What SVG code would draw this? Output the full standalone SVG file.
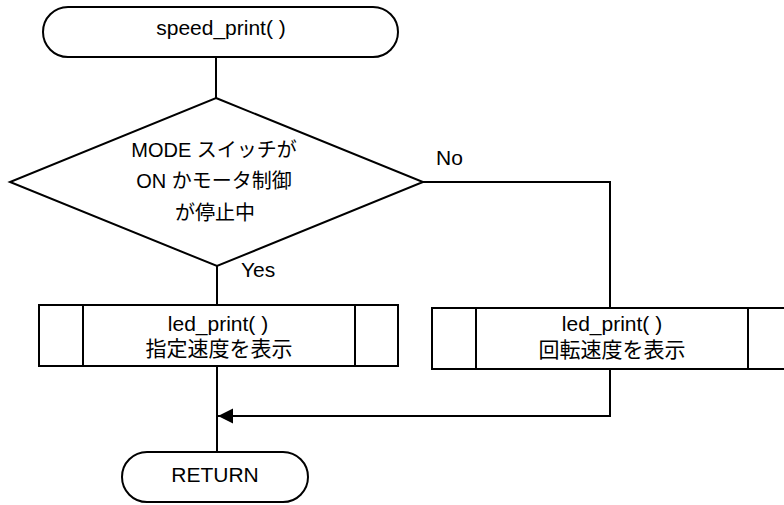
<svg xmlns="http://www.w3.org/2000/svg" width="784" height="505" viewBox="0 0 784 505">
  <style>
    .shape { fill: #ffffff; stroke: #000000; stroke-width: 2; }
    .line { fill: none; stroke: #000000; stroke-width: 2; }
    .t { font-family: "Liberation Sans", "Noto Sans CJK JP", sans-serif; font-size: 21px; fill: #000000; text-anchor: middle; }
    .td { font-size: 20px; }
    .lbl { text-anchor: start; }
  </style>
  <defs>
    <marker id="arrow" markerWidth="16" markerHeight="16" refX="15" refY="7.5" orient="auto" markerUnits="userSpaceOnUse">
      <path d="M0,0 L15,7.5 L0,15 Z" fill="#000000"/>
    </marker>
  </defs>
  <rect width="784" height="505" fill="#ffffff"/>

  <g id="connectors">
    <line class="line" x1="216" y1="57" x2="216" y2="98"/>
    <line class="line" x1="217" y1="266" x2="217" y2="305"/>
    <line class="line" x1="217" y1="366" x2="217" y2="452"/>
    <polyline class="line" points="423,182 610,182 610,308"/>
    <polyline class="line" points="610,369 610,416 218,416" marker-end="url(#arrow)"/>
    <text class="t lbl" x="436" y="165">No</text>
    <text class="t lbl" x="241" y="277">Yes</text>
  </g>

  <g id="start">
    <rect class="shape" x="43" y="7" width="355" height="50" rx="25" ry="25"/>
    <text class="t" x="221" y="35">speed_print( )</text>
  </g>

  <g id="decision">
    <polygon class="shape" points="216,98 423,182 217,266 10,182"/>
    <text class="t td" x="214" y="157">MODE スイッチが</text>
    <text class="t td" x="214" y="188">ON かモータ制御</text>
    <text class="t td" x="215" y="220">が停止中</text>
  </g>

  <g id="led-target">
    <rect class="shape" x="39" y="305" width="359" height="61"/>
    <line class="line" x1="83" y1="305" x2="83" y2="366"/>
    <line class="line" x1="355" y1="305" x2="355" y2="366"/>
    <text class="t" x="218" y="331">led_print( )</text>
    <text class="t" x="219" y="356">指定速度を表示</text>
  </g>

  <g id="led-actual">
    <rect class="shape" x="432" y="308" width="360" height="61"/>
    <line class="line" x1="476" y1="308" x2="476" y2="369"/>
    <line class="line" x1="748" y1="308" x2="748" y2="369"/>
    <text class="t" x="612" y="331">led_print( )</text>
    <text class="t" x="612" y="357">回転速度を表示</text>
  </g>

  <g id="return">
    <rect class="shape" x="122" y="452" width="186" height="50" rx="25" ry="25"/>
    <text class="t" x="215" y="482">RETURN</text>
  </g>
</svg>
